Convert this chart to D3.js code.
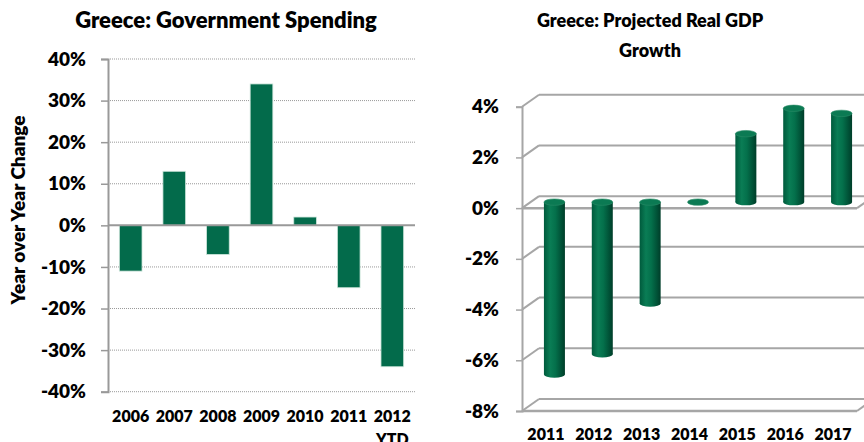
<!DOCTYPE html>
<html>
<head>
<meta charset="utf-8">
<script src="https://cdn.jsdelivr.net/npm/d3@7"></script>
<style>
  body { margin: 0; background: #fff; }
  text { font-family: Lato, "Open Sans", sans-serif; font-weight: 800; fill: #000; }
</style>
</head>
<body>
<svg id="chart" width="864" height="442"></svg>
<script>
// left panel: government spending, yoy change (%)
let spendYears = ["2006", "2007", "2008", "2009", "2010", "2011", "2012"];
let spendValues = [-11, 13, -7, 34, 2, -15, -34];
let spendTicks = [40, 30, 20, 10, 0, -10, -20, -30, -40];

// right panel: projected real gdp growth (%)
let gdpYears = ["2011", "2012", "2013", "2014", "2015", "2016", "2017"];
let gdpValues = [-6.8, -6.0, -4.0, 0, 2.7, 3.7, 3.5];
let gdpTicks = [4, 2, 0, -2, -4, -6, -8];

let svg = d3.select("#chart");
let green = "#036b4b";

// ---------- left chart ----------
let left = svg.append("g");
let y1 = d3.scaleLinear().domain([-40, 40]).range([391.7, 59]);
let x1 = d3.scaleBand().domain(spendYears).range([108, 415]).paddingInner(0.48).paddingOuter(0.26);

left.append("text").attr("x", 226).attr("y", 28).attr("text-anchor", "middle")
  .style("font-size", "22px").text("Greece: Government Spending");

// dotted grid
left.selectAll(".grid").data(spendTicks.filter(d => d != 0)).enter()
  .append("line")
  .attr("x1", 110).attr("x2", 415)
  .attr("y1", d => y1(d)).attr("y2", d => y1(d))
  .attr("stroke", "#999").attr("stroke-width", 1).attr("stroke-dasharray", "1,1");

let yAxis1 = left.append("g").attr("transform", "translate(108,0)")
  .call(d3.axisLeft(y1).tickValues(spendTicks).tickFormat(d => d + "%").tickSize(7).tickPadding(15));
yAxis1.select(".domain").attr("stroke", "#999").attr("stroke-width", 2);
yAxis1.selectAll(".tick line").attr("stroke", "#999").attr("stroke-width", 1.5);
yAxis1.selectAll("text").style("font-size", "19px").style("font-family", "Lato, sans-serif").attr("fill", "#000");

left.selectAll(".bar").data(spendValues).enter()
  .append("rect")
  .attr("x", (d, i) => x1(spendYears[i]))
  .attr("width", x1.bandwidth())
  .attr("y", d => y1(Math.max(0, d)))
  .attr("height", d => Math.abs(y1(d) - y1(0)))
  .attr("fill", green).attr("stroke", "#cfe6dc").attr("stroke-width", 0.8);

// zero line
left.append("line").attr("x1", 108).attr("x2", 415).attr("y1", y1(0)).attr("y2", y1(0))
  .attr("stroke", "#999").attr("stroke-width", 2);

left.selectAll(".xlab").data(spendYears).enter()
  .append("text")
  .attr("x", d => x1(d) + x1.bandwidth() / 2).attr("y", 422)
  .attr("text-anchor", "middle").style("font-size", "16px").text(d => d);
left.append("text").attr("x", x1("2012") + x1.bandwidth() / 2).attr("y", 445)
  .attr("text-anchor", "middle").style("font-size", "16px").text("YTD");

left.append("text").attr("transform", "translate(25,210) rotate(-90)")
  .attr("text-anchor", "middle").style("font-size", "19px").text("Year over Year Change");

// ---------- right chart (3d look) ----------
let right = svg.append("g");
let y2 = d3.scaleLinear().domain([-8, 4]).range([411, 106.7]);
let x2 = d3.scaleBand().domain(gdpYears).range([522, 857]);
let depthX = 17, depthY = -12;

right.append("text").attr("x", 650).attr("y", 27).attr("text-anchor", "middle")
  .style("font-size", "18px").text("Greece: Projected Real GDP");
right.append("text").attr("x", 650).attr("y", 57).attr("text-anchor", "middle")
  .style("font-size", "18px").text("Growth");

// back wall grid
right.selectAll(".bgrid").data(gdpTicks).enter()
  .append("line")
  .attr("x1", 522 + depthX).attr("x2", 864)
  .attr("y1", d => y2(d) + depthY).attr("y2", d => y2(d) + depthY)
  .attr("stroke", "#a6a6a6").attr("stroke-width", 2);
// side wall diagonals
right.selectAll(".diag").data(gdpTicks).enter()
  .append("line")
  .attr("x1", 522).attr("x2", 522 + depthX)
  .attr("y1", d => y2(d)).attr("y2", d => y2(d) + depthY)
  .attr("stroke", "#a6a6a6").attr("stroke-width", 2);

let yAxis2 = right.append("g").attr("transform", "translate(522,0)")
  .call(d3.axisLeft(y2).tickValues(gdpTicks).tickFormat(d => d + "%").tickSize(6).tickPadding(17));
yAxis2.select(".domain").attr("stroke", "#a6a6a6").attr("stroke-width", 2);
yAxis2.selectAll(".tick line").attr("stroke", "#a6a6a6").attr("stroke-width", 1.5);
yAxis2.selectAll("text").style("font-size", "19px").style("font-family", "Lato, sans-serif").attr("fill", "#000");

// floor edges (front)
[0, -8].forEach(v => {
  right.append("line").attr("x1", 522).attr("x2", 857).attr("y1", y2(v)).attr("y2", y2(v))
    .attr("stroke", "#a6a6a6").attr("stroke-width", 2.5);
  right.append("line").attr("x1", 857).attr("x2", 857 + depthX).attr("y1", y2(v)).attr("y2", y2(v) + depthY)
    .attr("stroke", "#a6a6a6").attr("stroke-width", 2);
});

// cylinder gradient
let defs = svg.append("defs");
let grad = defs.append("linearGradient").attr("id", "cyl").attr("x1", "0").attr("x2", "1").attr("y1", "0").attr("y2", "0");
[[0, "#005a3c"], [0.3, "#0a7d55"], [0.55, "#04704b"], [0.85, "#004f35"], [1, "#003d29"]].forEach(s =>
  grad.append("stop").attr("offset", s[0]).attr("stop-color", s[1]));

let cylW = 21, ry = 3.2;
let cyl = right.selectAll(".cyl").data(gdpValues).enter().append("g");
cyl.each(function(d, i) {
  let g = d3.select(this);
  let cx = x2(gdpYears[i]) + x2.bandwidth() / 2 + depthX / 2;
  let ya = y2(0) + depthY / 2, yb = y2(d) + depthY / 2;
  let top = Math.min(ya, yb), bot = Math.max(ya, yb);
  if (bot - top > 0.5) {
    g.append("ellipse").attr("cx", cx).attr("cy", bot).attr("rx", cylW / 2).attr("ry", ry).attr("fill", "url(#cyl)");
    g.append("rect").attr("x", cx - cylW / 2).attr("width", cylW).attr("y", top).attr("height", bot - top).attr("fill", "url(#cyl)");
  }
  g.append("ellipse").attr("cx", cx).attr("cy", top).attr("rx", cylW / 2).attr("ry", ry)
    .attr("fill", "#0b7a53").attr("stroke", "#2a8c66").attr("stroke-width", 0.6);
});

right.selectAll(".xlab").data(gdpYears).enter()
  .append("text")
  .attr("x", d => x2(d) + x2.bandwidth() / 2).attr("y", 440)
  .attr("text-anchor", "middle").style("font-size", "16px").text(d => d);
</script>
</body>
</html>
